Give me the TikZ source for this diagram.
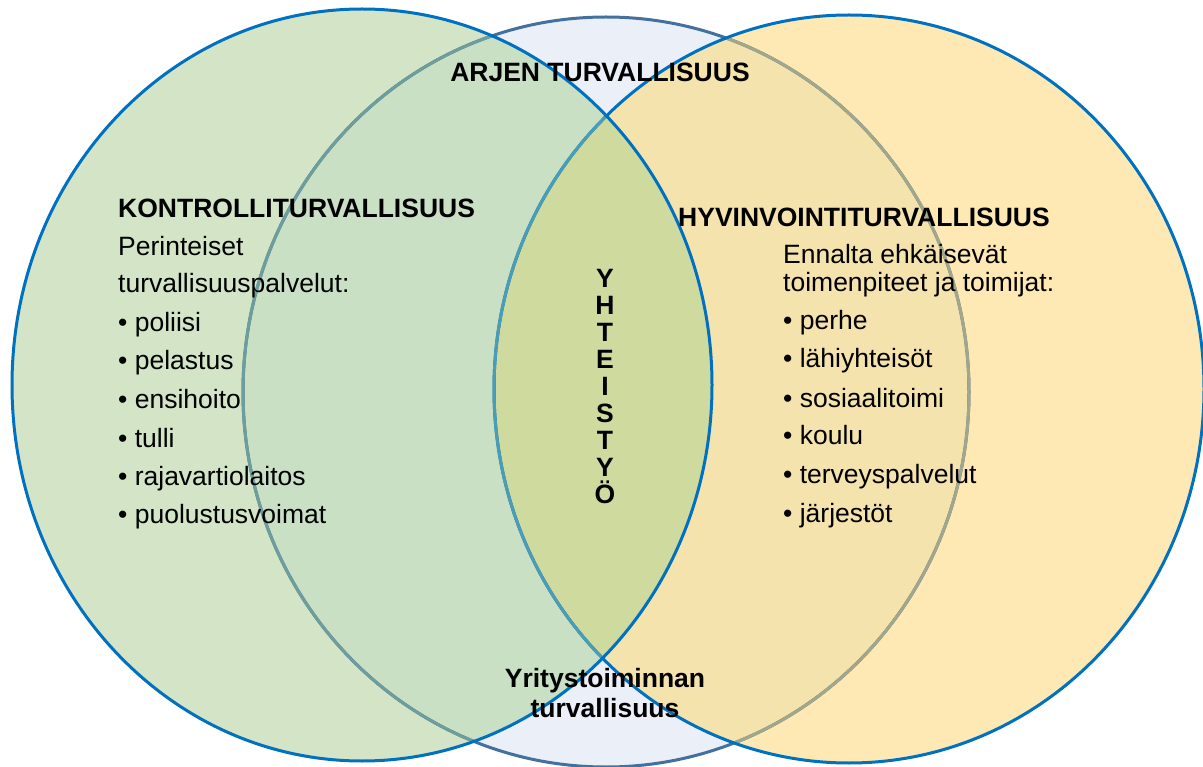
\documentclass[tikz,border=0pt]{standalone}
\usepackage{fontspec}
\setmainfont{Liberation Sans}
\definecolor{Lonly}{HTML}{D3E5C6}
\definecolor{Monly}{HTML}{EAEFF8}
\definecolor{Ronly}{HTML}{FEE9B4}
\definecolor{LMcol}{HTML}{C9E0C5}
\definecolor{RMcol}{HTML}{F5E3AD}
\definecolor{LRMcol}{HTML}{CFDA9F}
\definecolor{blueline}{HTML}{0070C0}
\definecolor{Mline}{HTML}{44709E}
\definecolor{MlineL}{HTML}{6E9E9C}
\definecolor{MlineR}{HTML}{A3A78A}
\definecolor{RlineL}{HTML}{4A9DB4}
\begin{document}
\begin{tikzpicture}[x=1pt,y=-1pt,
  outl/.style={line width=3pt},
  bold/.style={font=\fontsize{26.5}{30}\selectfont\bfseries, inner sep=0pt},
  reg/.style={font=\fontsize{26.5}{30}\selectfont, inner sep=0pt, anchor=base west},
  vert/.style={font=\fontsize{26.5}{27}\selectfont\bfseries, inner sep=0pt, align=center},
  two/.style={font=\fontsize{26.5}{30}\selectfont\bfseries, inner sep=0pt, align=center}]
\useasboundingbox (0,0) rectangle (1203,767);
\def\Lp{(362,385) ellipse [x radius=350pt, y radius=376pt]}
\def\Mp{(606,392) ellipse [x radius=363pt, y radius=375pt]}
\def\Rp{(849,389) ellipse [x radius=355pt, y radius=374pt]}
% fills
\fill[Monly] \Mp;
\fill[Lonly] \Lp;
\fill[Ronly] \Rp;
\begin{scope}
  \clip \Mp;
  \fill[LMcol] \Lp;
  \fill[RMcol] \Rp;
  \clip \Lp;
  \fill[LRMcol] \Rp;
\end{scope}
% outlines
\draw[outl, Mline] \Mp;
\begin{scope}\clip \Lp; \draw[outl, MlineL] \Mp; \end{scope}
\begin{scope}\clip \Rp; \draw[outl, MlineR] \Mp; \end{scope}
\draw[outl, blueline] \Rp;
\begin{scope}\clip \Lp; \draw[outl, RlineL] \Rp; \end{scope}
\draw[outl, blueline] \Lp;
% texts
\node[bold, anchor=base] (arjen) at (600,82) {ARJEN TURVALLISUUS};
\node[bold, anchor=base west] (kontrolli) at (118,218) {KONTROLLITURVALLISUUS};
\node[reg] (l1) at (118,256) {Perinteiset};
\node[reg] (l2) at (118,293) {turvallisuuspalvelut:};
\node[reg] (l3) at (118,332) {• poliisi};
\node[reg] (l4) at (118,370) {• pelastus};
\node[reg] (l5) at (118,409) {• ensihoito};
\node[reg] (l6) at (118,447) {• tulli};
\node[reg] (l7) at (118,485) {• rajavartiolaitos};
\node[reg] (l8) at (118,523) {• puolustusvoimat};
\node[bold, anchor=base west] (hyvin) at (678,227) {HYVINVOINTITURVALLISUUS};
\node[reg] (r1) at (783,264) {Ennalta ehkäisevät};
\node[reg] (r2) at (783,292) {toimenpiteet ja toimijat:};
\node[reg] (r3) at (783,330) {• perhe};
\node[reg] (r4) at (783,368) {• lähiyhteisöt};
\node[reg] (r5) at (783,407) {• sosiaalitoimi};
\node[reg] (r6) at (783,445) {• koulu};
\node[reg] (r7) at (783,483) {• terveyspalvelut};
\node[reg] (r8) at (783,522) {• järjestöt};
\node[vert, anchor=base] (yht) at (605,503) {Y\\H\\T\\E\\I\\S\\T\\Y\\Ö};
\node[two, anchor=base] (yrit) at (605,717) {Yritystoiminnan\\turvallisuus};
\end{tikzpicture}
\end{document}
